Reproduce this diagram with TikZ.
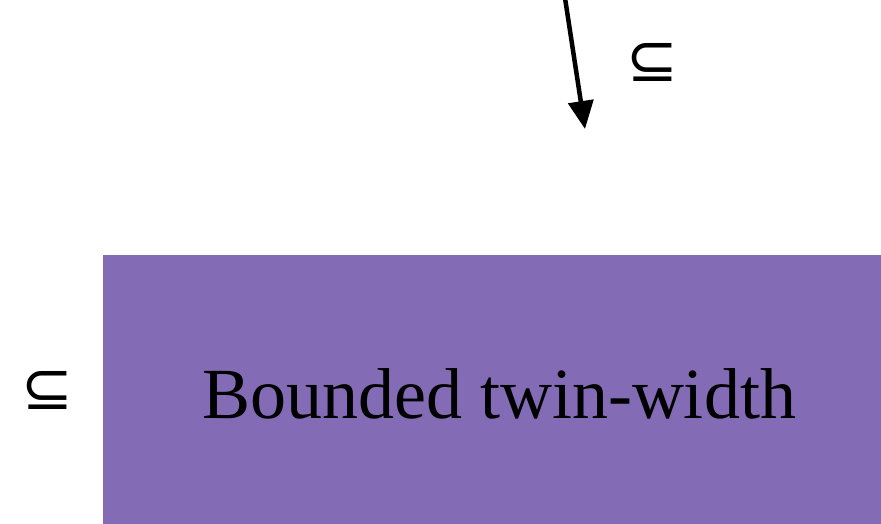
\documentclass[tikz,border=0pt]{standalone}
\usepackage{fontspec}
\setmainfont{Liberation Serif}
\newfontfamily\symfont{DejaVu Sans}
\usetikzlibrary{arrows.meta}
\definecolor{boxpurple}{RGB}{131,107,181}
\tikzset{
  classbox/.style={fill=boxpurple, draw=none, inner sep=0pt, minimum width=778pt, minimum height=269pt},
  subsetlabel/.style={font=\symfont\fontsize{62}{62}\selectfont, inner sep=0pt},
  inclarrow/.style={line width=4.5pt, -{Triangle[length=28pt,width=25pt]}}
}
\begin{document}
\begin{tikzpicture}[x=1pt,y=-1pt]
\useasboundingbox (0,0) rectangle (881,524);
\node[classbox, anchor=north west] (btw) at (103,255) {};
\node[font=\fontsize{72}{72}\selectfont, anchor=base, inner sep=0pt] (btwtext) at (499,418) {Bounded twin-width};
\node[subsetlabel] (s1) at (652,62) {⊆};
\node[subsetlabel] (s2) at (47,390) {⊆};
\coordinate (astart) at (565,-2);
\coordinate (aend) at (585,129);
\draw[inclarrow] (astart) -- (aend);
\end{tikzpicture}
\end{document}
